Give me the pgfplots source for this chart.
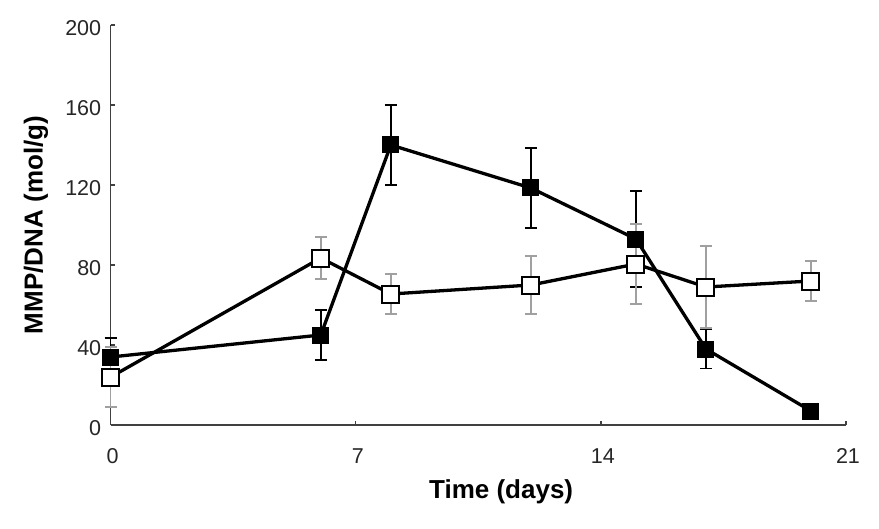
\documentclass[border=0pt]{standalone}
\usepackage{fontspec}
\setmainfont{Liberation Sans}
\usepackage{pgfplots}
\pgfplotsset{compat=1.18}
\definecolor{axisgray}{HTML}{404040}
\definecolor{errgray}{HTML}{A0A0A0}
\begin{document}
\begin{tikzpicture}
\useasboundingbox (-110.7pt,-103pt) rectangle (768.3pt,425pt);
\begin{axis}[
  scale only axis,
  width=735.3pt, height=400pt,
  xmin=0, xmax=21, ymin=0, ymax=200,
  axis x line=bottom, axis y line=left,
  axis line style={-, line width=1.2pt, draw=axisgray},
  xtick={0,7,14,21}, ytick={0,40,80,120,160,200},
  tick align=inside,
  major tick length=4pt,
  tick style={line width=1.2pt, draw=axisgray},
  /pgf/number format/assume math mode=true,
  ticklabel style={font=\fontsize{21.5}{25}\selectfont, text=black!85},
  xticklabel style={yshift=-20pt, xshift=2pt},
  yticklabel style={xshift=-6pt, yshift=-3pt},
  xlabel={Time (days)},
  ylabel={MMP/DNA (mol/g)},
  label style={font=\fontsize{26}{30}\selectfont\bfseries},
  xlabel style={at={(axis description cs:0.531,-0.1825)}, anchor=base},
  ylabel style={at={(axis description cs:-0.0927,0.5)}, anchor=base, rotate=0},
  clip=false,
]
% filled squares
\addplot[black, line width=3.3pt,
  mark=square*, mark size=8pt,
  mark options={solid, fill=black, draw=black, line width=1pt},
  error bars/.cd, y dir=both, y explicit,
  error bar style={line width=1.6pt, black},
  error mark options={rotate=90, mark size=6pt, line width=1.6pt, black}]
  table[x=x, y=y, y error=e] {
x y e
0 34 9.5
6 45 12.5
8 140 20
12 118.5 20
15 93 24
17 38 9.7
20 7 3
};
% open squares
\addplot[black, line width=3.3pt,
  mark=square*, mark size=8.5pt,
  mark options={solid, fill=white, draw=black, line width=2pt},
  error bars/.cd, y dir=both, y explicit,
  error bar style={line width=1.6pt, errgray},
  error mark options={rotate=90, mark size=6pt, line width=1.6pt, errgray}]
  table[x=x, y=y, y error=e] {
x y e
0 24 15
6 83.5 10.5
8 65.5 10
12 70 14.5
15 80.5 20
17 69 20.5
20 72 10
};
\end{axis}
\end{tikzpicture}
\end{document}
